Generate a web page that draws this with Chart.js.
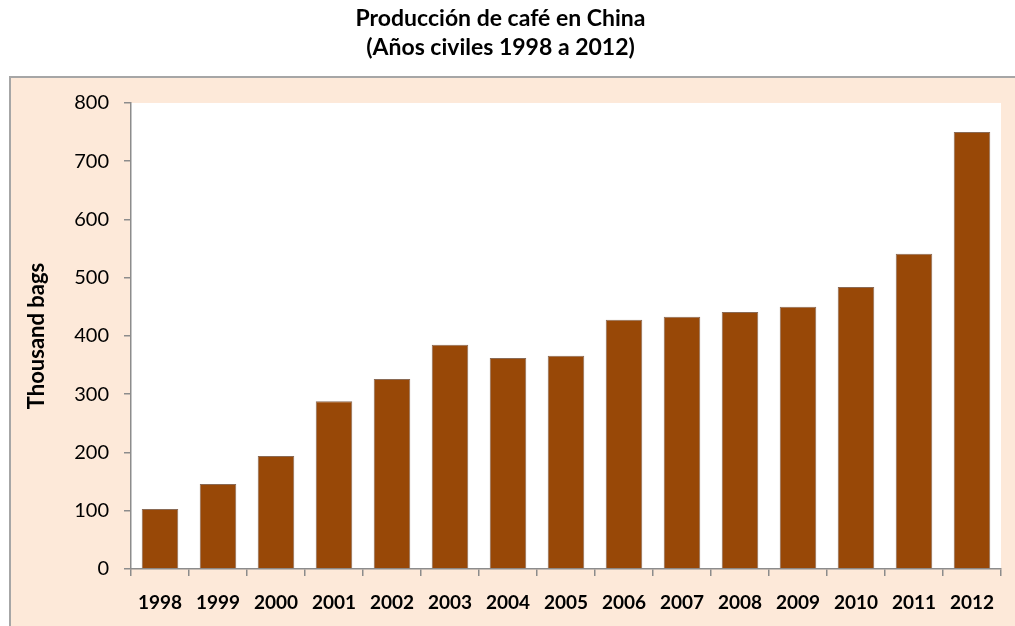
<!DOCTYPE html>
<html>
<head>
<meta charset="utf-8">
<script src="https://cdn.jsdelivr.net/npm/chart.js@4.4.0/dist/chart.umd.min.js"></script>
<style>
html,body{margin:0;padding:0;background:#fff;}
#wrap{width:1015px;height:626px;position:relative;}
</style>
</head>
<body>
<div id="wrap"><canvas id="c" width="1015" height="626"></canvas></div>
<script>
const categories = ['1998','1999','2000','2001','2002','2003','2004','2005','2006','2007','2008','2009','2010','2011','2012'];
const production = [103, 146, 194, 288, 326, 385, 362, 366, 428, 433, 441, 450, 484, 541, 750];
const yTicks = [0, 100, 200, 300, 400, 500, 600, 700, 800];
const titleLines = ['Producción de café en China', '(Años civiles 1998 a 2012)'];
const yTitle = 'Thousand bags';

const FONT = 'Lato, "Open Sans", sans-serif';

const bgPlugin = {
  id: 'bgPlugin',
  beforeDraw(chart) {
    const ctx = chart.ctx;
    const a = chart.chartArea;
    ctx.save();
    ctx.fillStyle = '#ffffff';
    ctx.fillRect(0, 0, chart.width, chart.height);
    ctx.fillStyle = '#FDE9D9';
    ctx.fillRect(10, 77, chart.width + 20, chart.height + 20);
    ctx.strokeStyle = '#A6A6A6';
    ctx.lineWidth = 2;
    ctx.strokeRect(10, 77, chart.width + 20, chart.height + 20);
    ctx.fillStyle = '#ffffff';
    ctx.fillRect(a.left, a.top, a.right - a.left, a.bottom - a.top);
    ctx.restore();
  }
};

new Chart(document.getElementById('c'), {
  type: 'bar',
  data: {
    labels: categories,
    datasets: [{
      data: production,
      backgroundColor: '#984807',
      borderColor: '#8a6a55',
      borderWidth: 1,
      categoryPercentage: 1.0,
      barPercentage: 0.63
    }]
  },
  plugins: [bgPlugin],
  options: {
    responsive: false,
    animation: false,
    devicePixelRatio: 1,
    layout: { padding: { left: 0, right: 14, top: 0, bottom: 0 } },
    plugins: {
      legend: { display: false },
      tooltip: { enabled: false },
      title: {
        display: true,
        text: titleLines,
        color: '#000',
        font: { family: FONT, size: 23, weight: 'bold', lineHeight: 1.26 },
        padding: { top: 4, bottom: 41 }
      }
    },
    scales: {
      y: {
        min: 0,
        max: 800,
        afterBuildTicks(scale) { scale.ticks = yTicks.map(v => ({ value: v })); },
        afterFit(scale) { scale.width = 131; },
        ticks: {
          color: '#000',
          padding: 15,
          font: { family: FONT, size: 20 }
        },
        grid: { drawOnChartArea: false, drawTicks: true, tickLength: 7, color: '#8c8c8c', lineWidth: 1.5 },
        border: { display: true, color: '#8c8c8c', width: 1.5 },
        title: {
          display: true,
          text: yTitle,
          color: '#000',
          font: { family: FONT, size: 22, weight: 'bold', lineHeight: 1.2 },
          padding: { top: 24, bottom: 0 }
        }
      },
      x: {
        afterFit(scale) { scale.height = 57; },
        ticks: {
          color: '#000',
          padding: 15,
          maxRotation: 0,
          autoSkip: false,
          font: { family: FONT, size: 19, weight: 'bold' }
        },
        grid: { drawOnChartArea: false, drawTicks: true, tickLength: 7, color: '#8c8c8c', lineWidth: 1.5, offset: true },
        border: { display: true, color: '#8c8c8c', width: 1.5 }
      }
    }
  }
});
</script>
</body>
</html>
